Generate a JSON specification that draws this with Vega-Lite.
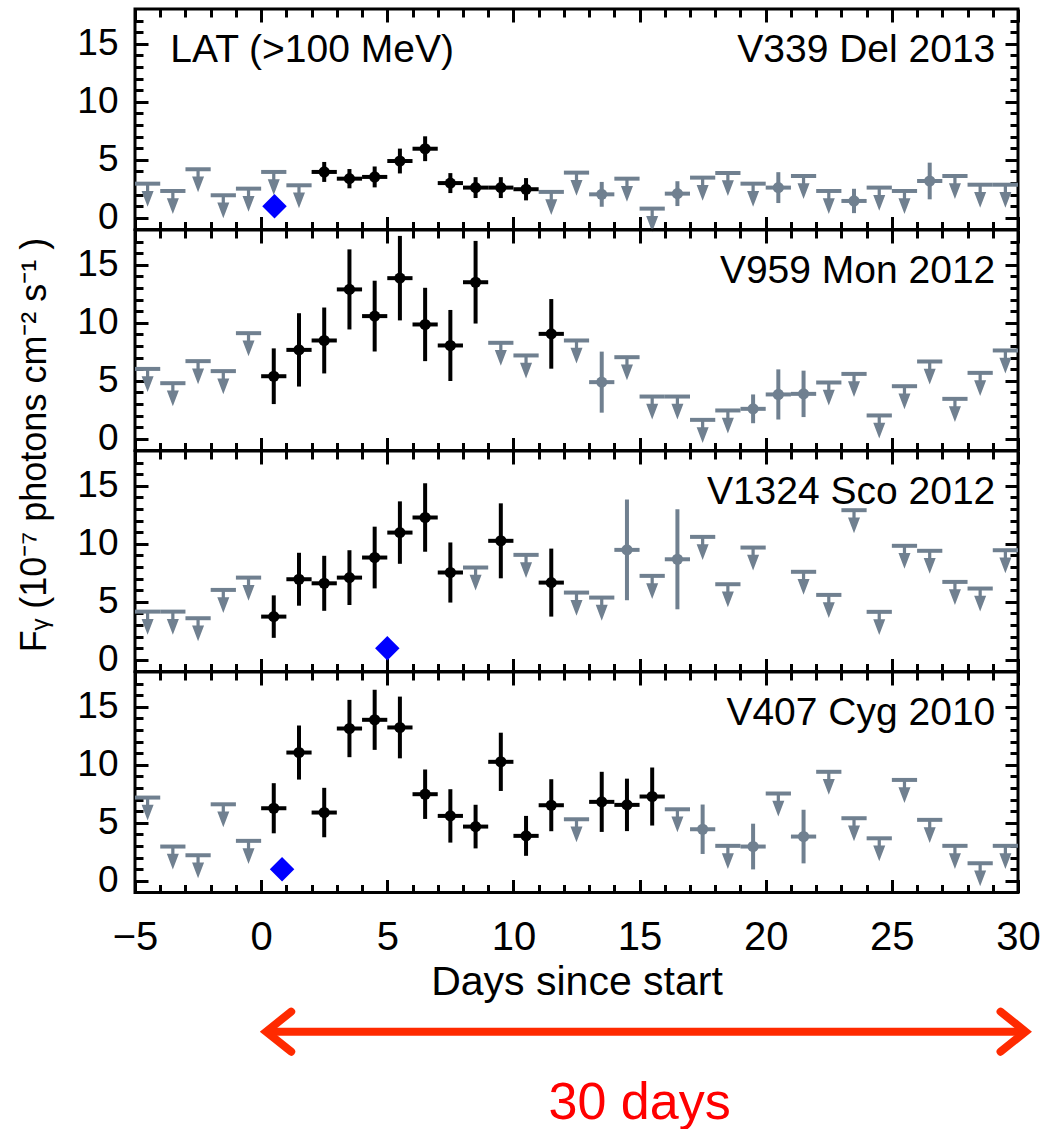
{
  "$schema": "https://vega.github.io/schema/vega-lite/v6.json",
  "padding": {"left": 14, "top": 0, "right": 5, "bottom": 0},
  "spacing": 0,
  "bounds": "flush",
  "config": {
    "font": "Liberation Sans",
    "view": {"stroke": "black", "strokeWidth": 3},
    "axis": {"domain": false, "grid": false, "tickColor": "black", "tickWidth": 3, "labelColor": "black", "titleColor": "black", "labelFont": "Liberation Sans", "titleFont": "Liberation Sans"}
  },
  "datasets": {
    "lc": [
      {"p":1,"t":-4.5,"t0":-5,"t1":-4,"f":2.95,"k":"ul"},
      {"p":1,"t":-3.5,"t0":-4,"t1":-3,"f":2.32,"k":"ul"},
      {"p":1,"t":-2.5,"t0":-3,"t1":-2,"f":4.19,"k":"ul"},
      {"p":1,"t":-1.5,"t0":-2,"t1":-1,"f":1.95,"k":"ul"},
      {"p":1,"t":-0.5,"t0":-1,"t1":0,"f":2.52,"k":"ul"},
      {"p":1,"t":0.5,"t0":0,"t1":1,"f":3.96,"k":"ul"},
      {"p":1,"t":1.5,"t0":1,"t1":2,"f":2.81,"k":"ul"},
      {"p":1,"t":2.5,"t0":2,"t1":3,"f":3.96,"lo":3.1,"hi":4.82,"k":"det"},
      {"p":1,"t":3.5,"t0":3,"t1":4,"f":3.38,"lo":2.55,"hi":4.21,"k":"det"},
      {"p":1,"t":4.5,"t0":4,"t1":5,"f":3.53,"lo":2.63,"hi":4.43,"k":"det"},
      {"p":1,"t":5.5,"t0":5,"t1":6,"f":4.9,"lo":3.83,"hi":5.97,"k":"det"},
      {"p":1,"t":6.5,"t0":6,"t1":7,"f":5.96,"lo":4.89,"hi":7.03,"k":"det"},
      {"p":1,"t":7.5,"t0":7,"t1":8,"f":3.0,"lo":2.14,"hi":3.86,"k":"det"},
      {"p":1,"t":8.5,"t0":8,"t1":9,"f":2.61,"lo":1.71,"hi":3.51,"k":"det"},
      {"p":1,"t":9.5,"t0":9,"t1":10,"f":2.61,"lo":1.71,"hi":3.51,"k":"det"},
      {"p":1,"t":10.5,"t0":10,"t1":11,"f":2.47,"lo":1.51,"hi":3.43,"k":"det"},
      {"p":1,"t":11.5,"t0":11,"t1":12,"f":2.24,"k":"ul"},
      {"p":1,"t":12.5,"t0":12,"t1":13,"f":3.9,"k":"ul"},
      {"p":1,"t":13.5,"t0":13,"t1":14,"f":2.03,"lo":0.96,"hi":3.1,"k":"low"},
      {"p":1,"t":14.5,"t0":14,"t1":15,"f":3.38,"k":"ul"},
      {"p":1,"t":15.5,"t0":15,"t1":16,"f":0.8,"k":"ul"},
      {"p":1,"t":16.5,"t0":16,"t1":17,"f":2.09,"lo":1.02,"hi":3.16,"k":"low"},
      {"p":1,"t":17.5,"t0":17,"t1":18,"f":3.47,"k":"ul"},
      {"p":1,"t":18.5,"t0":18,"t1":19,"f":3.87,"k":"ul"},
      {"p":1,"t":19.5,"t0":19,"t1":20,"f":2.95,"k":"ul"},
      {"p":1,"t":20.5,"t0":20,"t1":21,"f":2.61,"lo":1.28,"hi":3.94,"k":"low"},
      {"p":1,"t":21.5,"t0":21,"t1":22,"f":3.61,"k":"ul"},
      {"p":1,"t":22.5,"t0":22,"t1":23,"f":2.32,"k":"ul"},
      {"p":1,"t":23.5,"t0":23,"t1":24,"f":1.46,"lo":0.41,"hi":2.51,"k":"low"},
      {"p":1,"t":24.5,"t0":24,"t1":25,"f":2.61,"k":"ul"},
      {"p":1,"t":25.5,"t0":25,"t1":26,"f":2.32,"k":"ul"},
      {"p":1,"t":26.5,"t0":26,"t1":27,"f":3.18,"lo":1.6,"hi":4.76,"k":"low"},
      {"p":1,"t":27.5,"t0":27,"t1":28,"f":3.61,"k":"ul"},
      {"p":1,"t":28.5,"t0":28,"t1":29,"f":2.86,"k":"ul"},
      {"p":1,"t":29.5,"t0":29,"t1":30,"f":2.86,"k":"ul"},
      {"p":1,"t":0.53,"f":1.0,"k":"opt"},

      {"p":2,"t":-4.5,"t0":-5,"t1":-4,"f":6.03,"k":"ul"},
      {"p":2,"t":-3.5,"t0":-4,"t1":-3,"f":4.8,"k":"ul"},
      {"p":2,"t":-2.5,"t0":-3,"t1":-2,"f":6.7,"k":"ul"},
      {"p":2,"t":-1.5,"t0":-2,"t1":-1,"f":5.84,"k":"ul"},
      {"p":2,"t":-0.5,"t0":-1,"t1":0,"f":9.11,"k":"ul"},
      {"p":2,"t":0.5,"t0":0,"t1":1,"f":5.4,"lo":3.0,"hi":7.8,"k":"det"},
      {"p":2,"t":1.5,"t0":1,"t1":2,"f":7.67,"lo":4.51,"hi":10.83,"k":"det"},
      {"p":2,"t":2.5,"t0":2,"t1":3,"f":8.48,"lo":5.64,"hi":11.32,"k":"det"},
      {"p":2,"t":3.5,"t0":3,"t1":4,"f":12.88,"lo":9.43,"hi":16.33,"k":"det"},
      {"p":2,"t":4.5,"t0":4,"t1":5,"f":10.58,"lo":7.53,"hi":13.63,"k":"det"},
      {"p":2,"t":5.5,"t0":5,"t1":6,"f":13.85,"lo":10.21,"hi":17.49,"k":"det"},
      {"p":2,"t":6.5,"t0":6,"t1":7,"f":9.86,"lo":6.7,"hi":13.02,"k":"det"},
      {"p":2,"t":7.5,"t0":7,"t1":8,"f":8.05,"lo":4.99,"hi":11.11,"k":"det"},
      {"p":2,"t":8.5,"t0":8,"t1":9,"f":13.5,"lo":9.94,"hi":17.06,"k":"det"},
      {"p":2,"t":9.5,"t0":9,"t1":10,"f":8.28,"k":"ul"},
      {"p":2,"t":10.5,"t0":10,"t1":11,"f":7.19,"k":"ul"},
      {"p":2,"t":11.5,"t0":11,"t1":12,"f":9.05,"lo":6.05,"hi":12.05,"k":"det"},
      {"p":2,"t":12.5,"t0":12,"t1":13,"f":8.48,"k":"ul"},
      {"p":2,"t":13.5,"t0":13,"t1":14,"f":4.89,"lo":2.26,"hi":7.52,"k":"low"},
      {"p":2,"t":14.5,"t0":14,"t1":15,"f":7.04,"k":"ul"},
      {"p":2,"t":15.5,"t0":15,"t1":16,"f":3.65,"k":"ul"},
      {"p":2,"t":16.5,"t0":16,"t1":17,"f":3.65,"k":"ul"},
      {"p":2,"t":17.5,"t0":17,"t1":18,"f":1.64,"k":"ul"},
      {"p":2,"t":18.5,"t0":18,"t1":19,"f":2.45,"k":"ul"},
      {"p":2,"t":19.5,"t0":19,"t1":20,"f":2.59,"lo":1.35,"hi":3.83,"k":"low"},
      {"p":2,"t":20.5,"t0":20,"t1":21,"f":3.83,"lo":1.67,"hi":5.99,"k":"low"},
      {"p":2,"t":21.5,"t0":21,"t1":22,"f":3.88,"lo":1.88,"hi":5.88,"k":"low"},
      {"p":2,"t":22.5,"t0":22,"t1":23,"f":4.86,"k":"ul"},
      {"p":2,"t":23.5,"t0":23,"t1":24,"f":5.6,"k":"ul"},
      {"p":2,"t":24.5,"t0":24,"t1":25,"f":2.02,"k":"ul"},
      {"p":2,"t":25.5,"t0":25,"t1":26,"f":4.54,"k":"ul"},
      {"p":2,"t":26.5,"t0":26,"t1":27,"f":6.67,"k":"ul"},
      {"p":2,"t":27.5,"t0":27,"t1":28,"f":3.45,"k":"ul"},
      {"p":2,"t":28.5,"t0":28,"t1":29,"f":5.69,"k":"ul"},
      {"p":2,"t":29.5,"t0":29,"t1":30,"f":7.62,"k":"ul"},

      {"p":3,"t":-4.5,"t0":-5,"t1":-4,"f":4.16,"k":"ul"},
      {"p":3,"t":-3.5,"t0":-4,"t1":-3,"f":4.16,"k":"ul"},
      {"p":3,"t":-2.5,"t0":-3,"t1":-2,"f":3.59,"k":"ul"},
      {"p":3,"t":-1.5,"t0":-2,"t1":-1,"f":6.03,"k":"ul"},
      {"p":3,"t":-0.5,"t0":-1,"t1":0,"f":7.09,"k":"ul"},
      {"p":3,"t":0.5,"t0":0,"t1":1,"f":3.73,"lo":1.9,"hi":5.56,"k":"det"},
      {"p":3,"t":1.5,"t0":1,"t1":2,"f":6.95,"lo":4.67,"hi":9.23,"k":"det"},
      {"p":3,"t":2.5,"t0":2,"t1":3,"f":6.6,"lo":4.23,"hi":8.97,"k":"det"},
      {"p":3,"t":3.5,"t0":3,"t1":4,"f":7.09,"lo":4.73,"hi":9.45,"k":"det"},
      {"p":3,"t":4.5,"t0":4,"t1":5,"f":8.82,"lo":6.16,"hi":11.48,"k":"det"},
      {"p":3,"t":5.5,"t0":5,"t1":6,"f":10.97,"lo":8.28,"hi":13.66,"k":"det"},
      {"p":3,"t":6.5,"t0":6,"t1":7,"f":12.27,"lo":9.32,"hi":15.22,"k":"det"},
      {"p":3,"t":7.5,"t0":7,"t1":8,"f":7.53,"lo":4.94,"hi":10.12,"k":"det"},
      {"p":3,"t":8.5,"t0":8,"t1":9,"f":7.96,"k":"ul"},
      {"p":3,"t":9.5,"t0":9,"t1":10,"f":10.26,"lo":7.03,"hi":13.49,"k":"det"},
      {"p":3,"t":10.5,"t0":10,"t1":11,"f":9.05,"k":"ul"},
      {"p":3,"t":11.5,"t0":11,"t1":12,"f":6.66,"lo":3.73,"hi":9.59,"k":"det"},
      {"p":3,"t":12.5,"t0":12,"t1":13,"f":5.8,"k":"ul"},
      {"p":3,"t":13.5,"t0":13,"t1":14,"f":5.37,"k":"ul"},
      {"p":3,"t":14.5,"t0":14,"t1":15,"f":9.48,"lo":5.14,"hi":13.82,"k":"low"},
      {"p":3,"t":15.5,"t0":15,"t1":16,"f":7.24,"k":"ul"},
      {"p":3,"t":16.5,"t0":16,"t1":17,"f":8.67,"lo":4.36,"hi":12.98,"k":"low"},
      {"p":3,"t":17.5,"t0":17,"t1":18,"f":10.6,"k":"ul"},
      {"p":3,"t":18.5,"t0":18,"t1":19,"f":6.52,"k":"ul"},
      {"p":3,"t":19.5,"t0":19,"t1":20,"f":9.68,"k":"ul"},
      {"p":3,"t":21.5,"t0":21,"t1":22,"f":7.59,"k":"ul"},
      {"p":3,"t":22.5,"t0":22,"t1":23,"f":5.6,"k":"ul"},
      {"p":3,"t":23.5,"t0":23,"t1":24,"f":12.9,"k":"ul"},
      {"p":3,"t":24.5,"t0":24,"t1":25,"f":4.14,"k":"ul"},
      {"p":3,"t":25.5,"t0":25,"t1":26,"f":9.83,"k":"ul"},
      {"p":3,"t":26.5,"t0":26,"t1":27,"f":9.4,"k":"ul"},
      {"p":3,"t":27.5,"t0":27,"t1":28,"f":6.72,"k":"ul"},
      {"p":3,"t":28.5,"t0":28,"t1":29,"f":6.15,"k":"ul"},
      {"p":3,"t":29.5,"t0":29,"t1":30,"f":9.45,"k":"ul"},
      {"p":3,"t":5.0,"f":1.0,"k":"opt"},

      {"p":4,"t":-4.5,"t0":-5,"t1":-4,"f":7.18,"k":"ul"},
      {"p":4,"t":-3.5,"t0":-4,"t1":-3,"f":2.96,"k":"ul"},
      {"p":4,"t":-2.5,"t0":-3,"t1":-2,"f":2.21,"k":"ul"},
      {"p":4,"t":-1.5,"t0":-2,"t1":-1,"f":6.6,"k":"ul"},
      {"p":4,"t":-0.5,"t0":-1,"t1":0,"f":3.45,"k":"ul"},
      {"p":4,"t":0.5,"t0":0,"t1":1,"f":6.26,"lo":4.1,"hi":8.42,"k":"det"},
      {"p":4,"t":1.5,"t0":1,"t1":2,"f":11.06,"lo":8.73,"hi":13.39,"k":"det"},
      {"p":4,"t":2.5,"t0":2,"t1":3,"f":5.89,"lo":3.76,"hi":8.02,"k":"det"},
      {"p":4,"t":3.5,"t0":3,"t1":4,"f":13.13,"lo":10.66,"hi":15.6,"k":"det"},
      {"p":4,"t":4.5,"t0":4,"t1":5,"f":13.88,"lo":11.29,"hi":16.47,"k":"det"},
      {"p":4,"t":5.5,"t0":5,"t1":6,"f":13.22,"lo":10.56,"hi":15.88,"k":"det"},
      {"p":4,"t":6.5,"t0":6,"t1":7,"f":7.47,"lo":5.34,"hi":9.6,"k":"det"},
      {"p":4,"t":7.5,"t0":7,"t1":8,"f":5.6,"lo":3.3,"hi":7.9,"k":"det"},
      {"p":4,"t":8.5,"t0":8,"t1":9,"f":4.68,"lo":2.8,"hi":6.56,"k":"det"},
      {"p":4,"t":9.5,"t0":9,"t1":10,"f":10.26,"lo":7.75,"hi":12.77,"k":"det"},
      {"p":4,"t":10.5,"t0":10,"t1":11,"f":3.88,"lo":2.16,"hi":5.6,"k":"det"},
      {"p":4,"t":11.5,"t0":11,"t1":12,"f":6.52,"lo":4.28,"hi":8.76,"k":"det"},
      {"p":4,"t":12.5,"t0":12,"t1":13,"f":5.31,"k":"ul"},
      {"p":4,"t":13.5,"t0":13,"t1":14,"f":6.81,"lo":4.22,"hi":9.4,"k":"det"},
      {"p":4,"t":14.5,"t0":14,"t1":15,"f":6.55,"lo":4.29,"hi":8.81,"k":"det"},
      {"p":4,"t":15.5,"t0":15,"t1":16,"f":7.27,"lo":4.77,"hi":9.77,"k":"det"},
      {"p":4,"t":16.5,"t0":16,"t1":17,"f":6.17,"k":"ul"},
      {"p":4,"t":17.5,"t0":17,"t1":18,"f":4.45,"lo":2.32,"hi":6.58,"k":"low"},
      {"p":4,"t":18.5,"t0":18,"t1":19,"f":3.02,"k":"ul"},
      {"p":4,"t":19.5,"t0":19,"t1":20,"f":2.96,"lo":0.99,"hi":4.93,"k":"low"},
      {"p":4,"t":20.5,"t0":20,"t1":21,"f":7.53,"k":"ul"},
      {"p":4,"t":21.5,"t0":21,"t1":22,"f":3.82,"lo":1.51,"hi":6.13,"k":"low"},
      {"p":4,"t":22.5,"t0":22,"t1":23,"f":9.4,"k":"ul"},
      {"p":4,"t":23.5,"t0":23,"t1":24,"f":5.4,"k":"ul"},
      {"p":4,"t":24.5,"t0":24,"t1":25,"f":3.67,"k":"ul"},
      {"p":4,"t":25.5,"t0":25,"t1":26,"f":8.7,"k":"ul"},
      {"p":4,"t":26.5,"t0":26,"t1":27,"f":5.26,"k":"ul"},
      {"p":4,"t":27.5,"t0":27,"t1":28,"f":3.02,"k":"ul"},
      {"p":4,"t":28.5,"t0":28,"t1":29,"f":1.52,"k":"ul"},
      {"p":4,"t":29.5,"t0":29,"t1":30,"f":3.02,"k":"ul"},
      {"p":4,"t":0.83,"f":1.0,"k":"opt"}
    ],
    "labels": [
      {"p":1,"name":"V339 Del 2013"},
      {"p":2,"name":"V959 Mon 2012"},
      {"p":3,"name":"V1324 Sco 2012"},
      {"p":4,"name":"V407 Cyg 2010"}
    ]
  },
  "vconcat": [
    {
      "width": 883, "height": 220.5,
      "data": {"name": "lc"},
      "resolve": {"axis": {"x": "independent", "y": "independent"}},
      "layer": [
        {"transform": [{"filter": "datum.p === 1 && datum.k === 'ul'"}],
         "mark": {"type": "rule", "color": "#708090", "strokeWidth": 4},
         "encoding": {
           "x": {"field": "t0", "type": "quantitative", "scale": {"domain": [-5, 30], "nice": false, "zero": false},
                 "axis": {"orient": "bottom", "values": [-5,-4,-3,-2,-1,0,1,2,3,4,5,6,7,8,9,10,11,12,13,14,15,16,17,18,19,20,21,22,23,24,25,26,27,28,29,30], "tickSize": {"condition": {"test": "datum.value % 5 === 0", "value": -13}, "value": -8}, "labels": false, "title": null}},
           "x2": {"field": "t1"},
           "y": {"field": "f", "type": "quantitative", "scale": {"domain": [-1, 18], "nice": false, "zero": false},
                 "axis": {"orient": "left", "values": [0,1,2,3,4,5,6,7,8,9,10,11,12,13,14,15,16,17], "tickSize": {"condition": {"test": "datum.value % 5 === 0", "value": -13}, "value": -8}, "labelExpr": "datum.value % 5 === 0 ? datum.label : ''", "labelFontSize": 37, "labelPadding": 30, "labelOverlap": false, "labelBound": false, "title": null}}
         }},
        {"transform": [{"filter": "datum.p === 1 && (datum.k === 'det' || datum.k === 'low')"}],
         "mark": {"type": "rule", "strokeWidth": 4},
         "encoding": {
           "x": {"field": "t0", "type": "quantitative", "scale": {"domain": [-5, 30], "nice": false, "zero": false},
                 "axis": {"orient": "top", "values": [-5,-4,-3,-2,-1,0,1,2,3,4,5,6,7,8,9,10,11,12,13,14,15,16,17,18,19,20,21,22,23,24,25,26,27,28,29,30], "tickSize": {"condition": {"test": "datum.value % 5 === 0", "value": -13}, "value": -8}, "labels": false, "title": null}},
           "x2": {"field": "t1"},
           "y": {"field": "f", "type": "quantitative", "scale": {"domain": [-1, 18], "nice": false, "zero": false},
                 "axis": {"orient": "right", "values": [0,1,2,3,4,5,6,7,8,9,10,11,12,13,14,15,16,17], "tickSize": {"condition": {"test": "datum.value % 5 === 0", "value": -13}, "value": -8}, "labels": false, "title": null}},
           "color": {"field": "k", "type": "nominal", "scale": {"domain": ["det", "low"], "range": ["black", "#708090"]}, "legend": null}
         }},
        {"transform": [{"filter": "datum.p === 1 && (datum.k === 'det' || datum.k === 'low')"}],
         "mark": {"type": "rule", "strokeWidth": 4},
         "encoding": {
           "x": {"field": "t", "type": "quantitative", "axis": null},
           "y": {"field": "lo", "type": "quantitative", "axis": null},
           "y2": {"field": "hi"},
           "color": {"field": "k", "type": "nominal", "legend": null}
         }},
        {"transform": [{"filter": "datum.p === 1 && (datum.k === 'det' || datum.k === 'low')"}],
         "mark": {"type": "point", "shape": "circle", "filled": true, "opacity": 1, "size": 125},
         "encoding": {
           "x": {"field": "t", "type": "quantitative", "axis": null},
           "y": {"field": "f", "type": "quantitative", "axis": null},
           "color": {"field": "k", "type": "nominal", "legend": null}
         }},
        {"transform": [{"filter": "datum.p === 1 && datum.k === 'ul'"}],
         "mark": {"type": "point", "shape": "M-0.15,0L0.15,0L0.15,0.68L0.56,0.68L0,2.15L-0.56,0.68L-0.15,0.68Z", "filled": true, "opacity": 1, "size": 460, "color": "#708090"},
         "encoding": {
           "x": {"field": "t", "type": "quantitative", "axis": null},
           "y": {"field": "f", "type": "quantitative", "axis": null}
         }},
        {"transform": [{"filter": "datum.p === 1 && datum.k === 'opt'"}],
         "mark": {"type": "point", "shape": "diamond", "filled": true, "opacity": 1, "size": 600, "color": "#0000ff"},
         "encoding": {
           "x": {"field": "t", "type": "quantitative", "axis": null},
           "y": {"field": "f", "type": "quantitative", "axis": null}
         }},
        {"data": {"values": [{"name": "LAT (>100 MeV)"}]},
         "mark": {"type": "text", "align": "left", "baseline": "alphabetic", "fontSize": 39, "font": "Liberation Sans", "color": "black"},
         "encoding": {
           "x": {"datum": -3.6, "type": "quantitative", "axis": null},
           "y": {"datum": 13.4, "type": "quantitative", "axis": null},
           "text": {"field": "name"}
         }},
        {"data": {"name": "labels"},
         "transform": [{"filter": "datum.p === 1"}],
         "mark": {"type": "text", "align": "right", "baseline": "alphabetic", "fontSize": 39, "font": "Liberation Sans", "color": "black"},
         "encoding": {
           "x": {"datum": 29.1, "type": "quantitative", "axis": null},
           "y": {"datum": 13.4, "type": "quantitative", "axis": null},
           "text": {"field": "name"}
         }}
      ]
    },
    {
      "width": 883, "height": 220.5,
      "data": {"name": "lc"},
      "resolve": {"axis": {"x": "independent", "y": "independent"}},
      "layer": [
        {"transform": [{"filter": "datum.p === 2 && datum.k === 'ul'"}],
         "mark": {"type": "rule", "color": "#708090", "strokeWidth": 4},
         "encoding": {
           "x": {"field": "t0", "type": "quantitative", "scale": {"domain": [-5, 30], "nice": false, "zero": false},
                 "axis": {"orient": "bottom", "values": [-5,-4,-3,-2,-1,0,1,2,3,4,5,6,7,8,9,10,11,12,13,14,15,16,17,18,19,20,21,22,23,24,25,26,27,28,29,30], "tickSize": {"condition": {"test": "datum.value % 5 === 0", "value": -13}, "value": -8}, "labels": false, "title": null}},
           "x2": {"field": "t1"},
           "y": {"field": "f", "type": "quantitative", "scale": {"domain": [-1, 18], "nice": false, "zero": false},
                 "axis": {"orient": "left", "values": [0,1,2,3,4,5,6,7,8,9,10,11,12,13,14,15,16,17], "tickSize": {"condition": {"test": "datum.value % 5 === 0", "value": -13}, "value": -8}, "labelExpr": "datum.value % 5 === 0 ? datum.label : ''", "labelFontSize": 37, "labelPadding": 30, "labelOverlap": false, "labelBound": false,
                          "title": "F\u1D67 (10\u207B\u2077   photons cm\u207B\u00B2  s\u207B\u00B9 )", "titleFontSize": 36, "titleFontWeight": "normal", "titleX": -101, "titleY": 214.5, "titleBaseline": "middle", "titleAlign": "center", "titleAngle": -90}}
         }},
        {"transform": [{"filter": "datum.p === 2 && (datum.k === 'det' || datum.k === 'low')"}],
         "mark": {"type": "rule", "strokeWidth": 4},
         "encoding": {
           "x": {"field": "t0", "type": "quantitative", "scale": {"domain": [-5, 30], "nice": false, "zero": false},
                 "axis": {"orient": "top", "values": [-5,-4,-3,-2,-1,0,1,2,3,4,5,6,7,8,9,10,11,12,13,14,15,16,17,18,19,20,21,22,23,24,25,26,27,28,29,30], "tickSize": {"condition": {"test": "datum.value % 5 === 0", "value": -13}, "value": -8}, "labels": false, "title": null}},
           "x2": {"field": "t1"},
           "y": {"field": "f", "type": "quantitative", "scale": {"domain": [-1, 18], "nice": false, "zero": false},
                 "axis": {"orient": "right", "values": [0,1,2,3,4,5,6,7,8,9,10,11,12,13,14,15,16,17], "tickSize": {"condition": {"test": "datum.value % 5 === 0", "value": -13}, "value": -8}, "labels": false, "title": null}},
           "color": {"field": "k", "type": "nominal", "scale": {"domain": ["det", "low"], "range": ["black", "#708090"]}, "legend": null}
         }},
        {"transform": [{"filter": "datum.p === 2 && (datum.k === 'det' || datum.k === 'low')"}],
         "mark": {"type": "rule", "strokeWidth": 4},
         "encoding": {
           "x": {"field": "t", "type": "quantitative", "axis": null},
           "y": {"field": "lo", "type": "quantitative", "axis": null},
           "y2": {"field": "hi"},
           "color": {"field": "k", "type": "nominal", "legend": null}
         }},
        {"transform": [{"filter": "datum.p === 2 && (datum.k === 'det' || datum.k === 'low')"}],
         "mark": {"type": "point", "shape": "circle", "filled": true, "opacity": 1, "size": 125},
         "encoding": {
           "x": {"field": "t", "type": "quantitative", "axis": null},
           "y": {"field": "f", "type": "quantitative", "axis": null},
           "color": {"field": "k", "type": "nominal", "legend": null}
         }},
        {"transform": [{"filter": "datum.p === 2 && datum.k === 'ul'"}],
         "mark": {"type": "point", "shape": "M-0.15,0L0.15,0L0.15,0.68L0.56,0.68L0,2.15L-0.56,0.68L-0.15,0.68Z", "filled": true, "opacity": 1, "size": 460, "color": "#708090"},
         "encoding": {
           "x": {"field": "t", "type": "quantitative", "axis": null},
           "y": {"field": "f", "type": "quantitative", "axis": null}
         }},
        {"data": {"name": "labels"},
         "transform": [{"filter": "datum.p === 2"}],
         "mark": {"type": "text", "align": "right", "baseline": "alphabetic", "fontSize": 39, "font": "Liberation Sans", "color": "black"},
         "encoding": {
           "x": {"datum": 29.1, "type": "quantitative", "axis": null},
           "y": {"datum": 13.4, "type": "quantitative", "axis": null},
           "text": {"field": "name"}
         }}
      ]
    },
    {
      "width": 883, "height": 220.5,
      "data": {"name": "lc"},
      "resolve": {"axis": {"x": "independent", "y": "independent"}},
      "layer": [
        {"transform": [{"filter": "datum.p === 3 && datum.k === 'ul'"}],
         "mark": {"type": "rule", "color": "#708090", "strokeWidth": 4},
         "encoding": {
           "x": {"field": "t0", "type": "quantitative", "scale": {"domain": [-5, 30], "nice": false, "zero": false},
                 "axis": {"orient": "bottom", "values": [-5,-4,-3,-2,-1,0,1,2,3,4,5,6,7,8,9,10,11,12,13,14,15,16,17,18,19,20,21,22,23,24,25,26,27,28,29,30], "tickSize": {"condition": {"test": "datum.value % 5 === 0", "value": -13}, "value": -8}, "labels": false, "title": null}},
           "x2": {"field": "t1"},
           "y": {"field": "f", "type": "quantitative", "scale": {"domain": [-1, 18], "nice": false, "zero": false},
                 "axis": {"orient": "left", "values": [0,1,2,3,4,5,6,7,8,9,10,11,12,13,14,15,16,17], "tickSize": {"condition": {"test": "datum.value % 5 === 0", "value": -13}, "value": -8}, "labelExpr": "datum.value % 5 === 0 ? datum.label : ''", "labelFontSize": 37, "labelPadding": 30, "labelOverlap": false, "labelBound": false, "title": null}}
         }},
        {"transform": [{"filter": "datum.p === 3 && (datum.k === 'det' || datum.k === 'low')"}],
         "mark": {"type": "rule", "strokeWidth": 4},
         "encoding": {
           "x": {"field": "t0", "type": "quantitative", "scale": {"domain": [-5, 30], "nice": false, "zero": false},
                 "axis": {"orient": "top", "values": [-5,-4,-3,-2,-1,0,1,2,3,4,5,6,7,8,9,10,11,12,13,14,15,16,17,18,19,20,21,22,23,24,25,26,27,28,29,30], "tickSize": {"condition": {"test": "datum.value % 5 === 0", "value": -13}, "value": -8}, "labels": false, "title": null}},
           "x2": {"field": "t1"},
           "y": {"field": "f", "type": "quantitative", "scale": {"domain": [-1, 18], "nice": false, "zero": false},
                 "axis": {"orient": "right", "values": [0,1,2,3,4,5,6,7,8,9,10,11,12,13,14,15,16,17], "tickSize": {"condition": {"test": "datum.value % 5 === 0", "value": -13}, "value": -8}, "labels": false, "title": null}},
           "color": {"field": "k", "type": "nominal", "scale": {"domain": ["det", "low"], "range": ["black", "#708090"]}, "legend": null}
         }},
        {"transform": [{"filter": "datum.p === 3 && (datum.k === 'det' || datum.k === 'low')"}],
         "mark": {"type": "rule", "strokeWidth": 4},
         "encoding": {
           "x": {"field": "t", "type": "quantitative", "axis": null},
           "y": {"field": "lo", "type": "quantitative", "axis": null},
           "y2": {"field": "hi"},
           "color": {"field": "k", "type": "nominal", "legend": null}
         }},
        {"transform": [{"filter": "datum.p === 3 && (datum.k === 'det' || datum.k === 'low')"}],
         "mark": {"type": "point", "shape": "circle", "filled": true, "opacity": 1, "size": 125},
         "encoding": {
           "x": {"field": "t", "type": "quantitative", "axis": null},
           "y": {"field": "f", "type": "quantitative", "axis": null},
           "color": {"field": "k", "type": "nominal", "legend": null}
         }},
        {"transform": [{"filter": "datum.p === 3 && datum.k === 'ul'"}],
         "mark": {"type": "point", "shape": "M-0.15,0L0.15,0L0.15,0.68L0.56,0.68L0,2.15L-0.56,0.68L-0.15,0.68Z", "filled": true, "opacity": 1, "size": 460, "color": "#708090"},
         "encoding": {
           "x": {"field": "t", "type": "quantitative", "axis": null},
           "y": {"field": "f", "type": "quantitative", "axis": null}
         }},
        {"transform": [{"filter": "datum.p === 3 && datum.k === 'opt'"}],
         "mark": {"type": "point", "shape": "diamond", "filled": true, "opacity": 1, "size": 600, "color": "#0000ff"},
         "encoding": {
           "x": {"field": "t", "type": "quantitative", "axis": null},
           "y": {"field": "f", "type": "quantitative", "axis": null}
         }},
        {"data": {"name": "labels"},
         "transform": [{"filter": "datum.p === 3"}],
         "mark": {"type": "text", "align": "right", "baseline": "alphabetic", "fontSize": 39, "font": "Liberation Sans", "color": "black"},
         "encoding": {
           "x": {"datum": 29.1, "type": "quantitative", "axis": null},
           "y": {"datum": 13.4, "type": "quantitative", "axis": null},
           "text": {"field": "name"}
         }}
      ]
    },
    {
      "width": 883, "height": 220.5,
      "data": {"name": "lc"},
      "resolve": {"axis": {"x": "independent", "y": "independent"}},
      "layer": [
        {"transform": [{"filter": "datum.p === 4 && datum.k === 'ul'"}],
         "mark": {"type": "rule", "color": "#708090", "strokeWidth": 4},
         "encoding": {
           "x": {"field": "t0", "type": "quantitative", "scale": {"domain": [-5, 30], "nice": false, "zero": false},
                 "axis": {"orient": "bottom", "values": [-5,-4,-3,-2,-1,0,1,2,3,4,5,6,7,8,9,10,11,12,13,14,15,16,17,18,19,20,21,22,23,24,25,26,27,28,29,30], "tickSize": {"condition": {"test": "datum.value % 5 === 0", "value": -13}, "value": -8},
                          "labelExpr": "datum.value % 5 === 0 ? datum.label : ''", "labelFontSize": 40, "labelPadding": 38, "labelFlush": false, "labelOverlap": false, "labelBound": false,
                          "title": "Days since start", "titleFontSize": 41, "titleFontWeight": "normal", "titlePadding": 0}},
           "x2": {"field": "t1"},
           "y": {"field": "f", "type": "quantitative", "scale": {"domain": [-1, 18], "nice": false, "zero": false},
                 "axis": {"orient": "left", "values": [0,1,2,3,4,5,6,7,8,9,10,11,12,13,14,15,16,17], "tickSize": {"condition": {"test": "datum.value % 5 === 0", "value": -13}, "value": -8}, "labelExpr": "datum.value % 5 === 0 ? datum.label : ''", "labelFontSize": 37, "labelPadding": 30, "labelOverlap": false, "labelBound": false, "title": null}}
         }},
        {"transform": [{"filter": "datum.p === 4 && (datum.k === 'det' || datum.k === 'low')"}],
         "mark": {"type": "rule", "strokeWidth": 4},
         "encoding": {
           "x": {"field": "t0", "type": "quantitative", "scale": {"domain": [-5, 30], "nice": false, "zero": false},
                 "axis": {"orient": "top", "values": [-5,-4,-3,-2,-1,0,1,2,3,4,5,6,7,8,9,10,11,12,13,14,15,16,17,18,19,20,21,22,23,24,25,26,27,28,29,30], "tickSize": {"condition": {"test": "datum.value % 5 === 0", "value": -13}, "value": -8}, "labels": false, "title": null}},
           "x2": {"field": "t1"},
           "y": {"field": "f", "type": "quantitative", "scale": {"domain": [-1, 18], "nice": false, "zero": false},
                 "axis": {"orient": "right", "values": [0,1,2,3,4,5,6,7,8,9,10,11,12,13,14,15,16,17], "tickSize": {"condition": {"test": "datum.value % 5 === 0", "value": -13}, "value": -8}, "labels": false, "title": null}},
           "color": {"field": "k", "type": "nominal", "scale": {"domain": ["det", "low"], "range": ["black", "#708090"]}, "legend": null}
         }},
        {"transform": [{"filter": "datum.p === 4 && (datum.k === 'det' || datum.k === 'low')"}],
         "mark": {"type": "rule", "strokeWidth": 4},
         "encoding": {
           "x": {"field": "t", "type": "quantitative", "axis": null},
           "y": {"field": "lo", "type": "quantitative", "axis": null},
           "y2": {"field": "hi"},
           "color": {"field": "k", "type": "nominal", "legend": null}
         }},
        {"transform": [{"filter": "datum.p === 4 && (datum.k === 'det' || datum.k === 'low')"}],
         "mark": {"type": "point", "shape": "circle", "filled": true, "opacity": 1, "size": 125},
         "encoding": {
           "x": {"field": "t", "type": "quantitative", "axis": null},
           "y": {"field": "f", "type": "quantitative", "axis": null},
           "color": {"field": "k", "type": "nominal", "legend": null}
         }},
        {"transform": [{"filter": "datum.p === 4 && datum.k === 'ul'"}],
         "mark": {"type": "point", "shape": "M-0.15,0L0.15,0L0.15,0.68L0.56,0.68L0,2.15L-0.56,0.68L-0.15,0.68Z", "filled": true, "opacity": 1, "size": 460, "color": "#708090"},
         "encoding": {
           "x": {"field": "t", "type": "quantitative", "axis": null},
           "y": {"field": "f", "type": "quantitative", "axis": null}
         }},
        {"transform": [{"filter": "datum.p === 4 && datum.k === 'opt'"}],
         "mark": {"type": "point", "shape": "diamond", "filled": true, "opacity": 1, "size": 600, "color": "#0000ff"},
         "encoding": {
           "x": {"field": "t", "type": "quantitative", "axis": null},
           "y": {"field": "f", "type": "quantitative", "axis": null}
         }},
        {"data": {"name": "labels"},
         "transform": [{"filter": "datum.p === 4"}],
         "mark": {"type": "text", "align": "right", "baseline": "alphabetic", "fontSize": 39, "font": "Liberation Sans", "color": "black"},
         "encoding": {
           "x": {"datum": 29.1, "type": "quantitative", "axis": null},
           "y": {"datum": 13.4, "type": "quantitative", "axis": null},
           "text": {"field": "name"}
         }}
      ]
    },
    {
      "width": 883, "height": 235,
      "view": {"stroke": null},
      "layer": [
        {"data": {"values": [{"start": 0.2, "end": 30.3}]},
         "mark": {"type": "rule", "color": "#ff2a00", "strokeWidth": 8},
         "encoding": {
           "x": {"field": "start", "type": "quantitative", "scale": {"domain": [-5, 30], "nice": false, "zero": false}, "axis": null},
           "x2": {"field": "end"},
           "y": {"datum": 0.41, "type": "quantitative", "scale": {"domain": [0, 1], "nice": false, "zero": false}, "axis": null}
         }},
        {"data": {"values": [{"pos": 0.2, "side": "left"}, {"pos": 30.3, "side": "right"}]},
         "mark": {"type": "point", "filled": false, "stroke": "#ff2a00", "strokeWidth": 8, "opacity": 1, "strokeCap": "round", "size": 1600},
         "encoding": {
           "x": {"field": "pos", "type": "quantitative", "axis": null},
           "y": {"datum": 0.41, "type": "quantitative", "axis": null},
           "shape": {"field": "side", "type": "nominal", "scale": {"domain": ["left", "right"], "range": ["M1.25,-1L0,0L1.25,1", "M-1.25,-1L0,0L-1.25,1"]}, "legend": null}
         }},
        {"data": {"values": [{"txt": "30 days", "pos": 15}]},
         "mark": {"type": "text", "align": "center", "baseline": "alphabetic", "fontSize": 52, "font": "Liberation Sans", "color": "#ff0000"},
         "encoding": {
           "x": {"field": "pos", "type": "quantitative", "axis": null},
           "y": {"datum": 0.04, "type": "quantitative", "axis": null},
           "text": {"field": "txt"}
         }}
      ]
    }
  ]
}
